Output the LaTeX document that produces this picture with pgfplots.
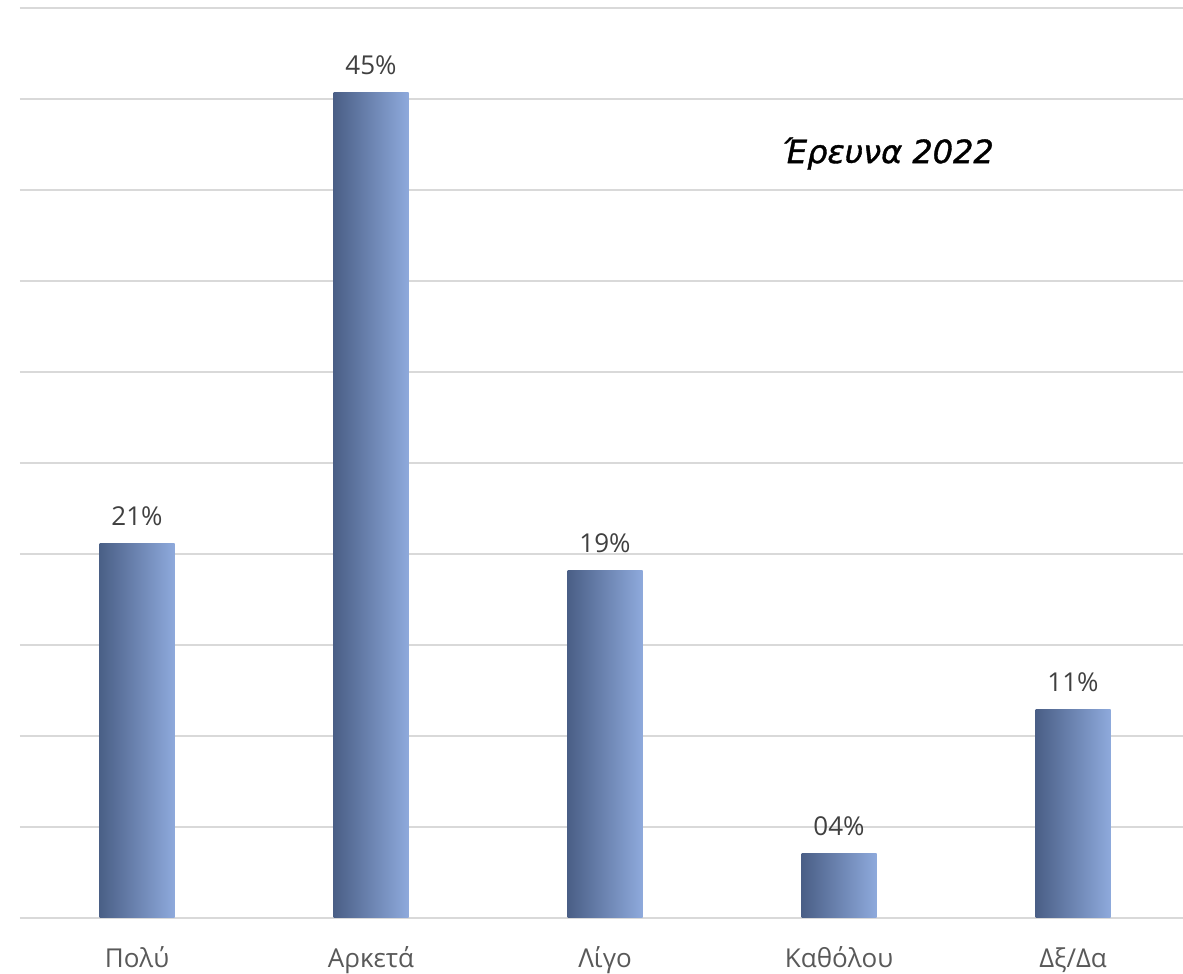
\documentclass[border=0pt]{standalone}
\usepackage{pgfplots}
\pgfplotsset{compat=1.18}
\usepackage{fontspec}
\setmainfont{Open Sans}
\newfontfamily\titlefont[FakeBold=1.2]{DejaVu Sans}
\definecolor{bardark}{HTML}{4A5F86}
\definecolor{barlight}{HTML}{8EAADC}
\definecolor{gridgray}{HTML}{D9D9D9}
\definecolor{labgray}{HTML}{595959}
\definecolor{datagray}{HTML}{404040}
\begin{document}
\begin{tikzpicture}
\useasboundingbox (0,0) rectangle (1183pt,974pt);
\begin{axis}[
  at={(20pt,56pt)}, anchor=south west,
  scale only axis,
  width=1163pt, height=910pt,
  xmin=-0.5, xmax=4.47,
  ymin=0, ymax=50,
  ytick={0,5,...,50},
  yticklabels={},
  ymajorgrids,
  major grid style={draw=gridgray, line width=2pt},
  axis line style={draw=none},
  tick style={draw=none},
  xtick={0,1,2,3,4},
  xticklabels={Πολύ,Αρκετά,Λίγο,Καθόλου,Δξ/Δα},
  xticklabel style={font=\fontsize{26}{30}\selectfont, text=labgray, anchor=base, yshift=-45pt},
  clip=false,
  ybar, bar width=75pt, bar shift=0pt,
  nodes near coords={\pgfplotspointmeta},
  point meta=explicit symbolic,
  every node near coord/.append style={font=\fontsize{26}{30}\selectfont, text=datagray, anchor=base, yshift=18pt},
  barstyle/.style={draw=none, left color=bardark, right color=barlight},
]
\addplot[barstyle] coordinates {(0,20.55) [21\%]};
\addplot[barstyle] coordinates {(1,45.33) [45\%]};
\addplot[barstyle] coordinates {(2,19.07) [19\%]};
\addplot[barstyle] coordinates {(3,3.52) [04\%]};
\addplot[barstyle] coordinates {(4,11.43) [11\%]};
\node[font=\titlefont\itshape\fontsize{32}{38}\selectfont, text=black] at (axis cs:3.21,42.0) {Έρευνα 2022};
\end{axis}
\end{tikzpicture}
\end{document}
